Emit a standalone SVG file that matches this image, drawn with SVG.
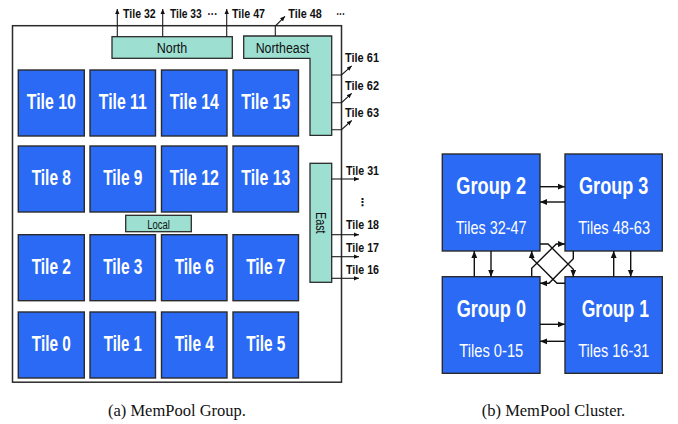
<svg xmlns="http://www.w3.org/2000/svg" width="678" height="424" viewBox="0 0 678 424">
<defs>
<marker id="ah" viewBox="0 0 6 6" refX="6" refY="3" markerWidth="5" markerHeight="5" markerUnits="userSpaceOnUse" orient="auto"><path d="M0,0.4 L6,3 L0,5.6 z" fill="#111"/></marker>
<marker id="ahc" viewBox="0 0 6 6" refX="6" refY="3" markerWidth="7" markerHeight="7" markerUnits="userSpaceOnUse" orient="auto"><path d="M0,0.5 L6,3 L0,5.5 z" fill="#111"/></marker>
</defs>
<style>
.tile{fill:#2a6af5;stroke:#2b2b2b;stroke-width:1.4}
.teal{fill:#9de0d1;stroke:#2b2b2b;stroke-width:1.3}
.tt{font-family:"Liberation Sans",Arial,sans-serif;font-weight:bold;font-size:22px;fill:#fff;text-anchor:middle}
.gt{font-family:"Liberation Sans",Arial,sans-serif;font-weight:bold;font-size:23px;fill:#fff;text-anchor:middle}
.gs{font-family:"Liberation Sans",Arial,sans-serif;font-size:19px;fill:#fff;text-anchor:middle}
.lb{font-family:"Liberation Sans",Arial,sans-serif;font-weight:bold;font-size:12px;fill:#111}
.bl{font-family:"Liberation Sans",Arial,sans-serif;font-size:14px;fill:#111;text-anchor:middle}
.cap{font-family:"Liberation Serif","Times New Roman",serif;font-size:16.5px;fill:#111;text-anchor:middle}
.ln{fill:none;stroke:#1a1a1a;stroke-width:1.1}
.lc{fill:none;stroke:#111;stroke-width:1.4}
</style>
<rect width="678" height="424" fill="#fff"/>

<g id="frame"><rect x="12.5" y="25.7" width="329" height="356.5" fill="none" stroke="#2b2b2b" stroke-width="1.5"/></g>

<g id="north"><rect class="teal" x="112" y="36.7" width="120.3" height="21.6"/><text class="bl" x="172" y="53.3" textLength="30.6" lengthAdjust="spacingAndGlyphs">North</text></g>
<g id="northeast"><path class="teal" d="M243.7,36 H331.7 V135.3 H310 V58.3 H243.7 Z"/><text class="bl" x="282.5" y="53.3" textLength="53.6" lengthAdjust="spacingAndGlyphs">Northeast</text></g>
<g id="east"><rect class="teal" x="310" y="163.3" width="21.7" height="119"/><text class="bl" transform="translate(316.3,222.8) rotate(90)" x="0" y="0" textLength="21.6" lengthAdjust="spacingAndGlyphs">East</text></g>
<g id="local"><rect class="teal" x="125.7" y="215.3" width="65.6" height="16.4"/><text class="bl" style="font-size:12.5px" x="158.5" y="228.7" textLength="22.7" lengthAdjust="spacingAndGlyphs">Local</text></g>

<g id="tile10"><rect class="tile" x="18.3" y="70" width="66" height="66"/><text class="tt" x="51.3" y="109.3" textLength="49" lengthAdjust="spacingAndGlyphs">Tile 10</text></g>
<g id="tile11"><rect class="tile" x="90" y="70" width="65.5" height="66"/><text class="tt" x="122.8" y="109.3" textLength="48" lengthAdjust="spacingAndGlyphs">Tile 11</text></g>
<g id="tile14"><rect class="tile" x="161.5" y="70" width="65.5" height="66"/><text class="tt" x="194.3" y="109.3" textLength="49" lengthAdjust="spacingAndGlyphs">Tile 14</text></g>
<g id="tile15"><rect class="tile" x="233" y="70" width="65.5" height="66"/><text class="tt" x="265.8" y="109.3" textLength="49" lengthAdjust="spacingAndGlyphs">Tile 15</text></g>

<g id="tile8"><rect class="tile" x="18.3" y="146" width="66" height="66"/><text class="tt" x="51.3" y="185.3" textLength="39.3" lengthAdjust="spacingAndGlyphs">Tile 8</text></g>
<g id="tile9"><rect class="tile" x="90" y="146" width="65.5" height="66"/><text class="tt" x="122.8" y="185.3" textLength="39.3" lengthAdjust="spacingAndGlyphs">Tile 9</text></g>
<g id="tile12"><rect class="tile" x="161.5" y="146" width="65.5" height="66"/><text class="tt" x="194.3" y="185.3" textLength="49" lengthAdjust="spacingAndGlyphs">Tile 12</text></g>
<g id="tile13"><rect class="tile" x="233" y="146" width="65.5" height="66"/><text class="tt" x="265.8" y="185.3" textLength="49" lengthAdjust="spacingAndGlyphs">Tile 13</text></g>

<g id="tile2"><rect class="tile" x="18.3" y="234.7" width="66" height="66"/><text class="tt" x="51.3" y="274" textLength="39.3" lengthAdjust="spacingAndGlyphs">Tile 2</text></g>
<g id="tile3"><rect class="tile" x="90" y="234.7" width="65.5" height="66"/><text class="tt" x="122.8" y="274" textLength="39.3" lengthAdjust="spacingAndGlyphs">Tile 3</text></g>
<g id="tile6"><rect class="tile" x="161.5" y="234.7" width="65.5" height="66"/><text class="tt" x="194.3" y="274" textLength="39.3" lengthAdjust="spacingAndGlyphs">Tile 6</text></g>
<g id="tile7"><rect class="tile" x="233" y="234.7" width="65.5" height="66"/><text class="tt" x="265.8" y="274" textLength="39.3" lengthAdjust="spacingAndGlyphs">Tile 7</text></g>

<g id="tile0"><rect class="tile" x="18.3" y="312" width="66" height="66"/><text class="tt" x="51.3" y="351.3" textLength="39" lengthAdjust="spacingAndGlyphs">Tile 0</text></g>
<g id="tile1"><rect class="tile" x="90" y="312" width="65.5" height="66"/><text class="tt" x="122.8" y="351.3" textLength="38" lengthAdjust="spacingAndGlyphs">Tile 1</text></g>
<g id="tile4"><rect class="tile" x="161.5" y="312" width="65.5" height="66"/><text class="tt" x="194.3" y="351.3" textLength="39.3" lengthAdjust="spacingAndGlyphs">Tile 4</text></g>
<g id="tile5"><rect class="tile" x="233" y="312" width="65.5" height="66"/><text class="tt" x="265.8" y="351.3" textLength="39" lengthAdjust="spacingAndGlyphs">Tile 5</text></g>

<g id="labels">
<text class="lb" x="123" y="18.3" textLength="32.7" lengthAdjust="spacingAndGlyphs">Tile 32</text>
<text class="lb" x="170" y="18.3" textLength="31.7" lengthAdjust="spacingAndGlyphs">Tile 33</text>
<text class="lb" x="207.5" y="18.3" textLength="10" lengthAdjust="spacingAndGlyphs">···</text>
<text class="lb" x="232" y="18.3" textLength="33" lengthAdjust="spacingAndGlyphs">Tile 47</text>
<text class="lb" x="288.3" y="18.3" textLength="33.4" lengthAdjust="spacingAndGlyphs">Tile 48</text>
<text class="lb" x="336.5" y="18.3" textLength="8.5" lengthAdjust="spacingAndGlyphs">···</text>
<text class="lb" x="345" y="62.3" textLength="34" lengthAdjust="spacingAndGlyphs">Tile 61</text>
<text class="lb" x="345" y="90" textLength="34" lengthAdjust="spacingAndGlyphs">Tile 62</text>
<text class="lb" x="345" y="117.3" textLength="34" lengthAdjust="spacingAndGlyphs">Tile 63</text>
<text class="lb" x="346" y="175" textLength="33" lengthAdjust="spacingAndGlyphs">Tile 31</text>
<text class="lb" style="font-family:'DejaVu Sans',sans-serif;font-size:11px" x="362.3" y="206" text-anchor="middle">⋮</text>
<text class="lb" x="346" y="229.3" textLength="33" lengthAdjust="spacingAndGlyphs">Tile 18</text>
<text class="lb" x="346" y="252" textLength="33" lengthAdjust="spacingAndGlyphs">Tile 17</text>
<text class="lb" x="346" y="274" textLength="33" lengthAdjust="spacingAndGlyphs">Tile 16</text>
</g>

<g id="group2"><rect class="tile" x="442.3" y="154" width="97.7" height="97"/><text class="gt" x="491.2" y="194" textLength="69.7" lengthAdjust="spacingAndGlyphs">Group 2</text><text class="gs" x="491.2" y="234" textLength="70.7" lengthAdjust="spacingAndGlyphs">Tiles 32-47</text></g>
<g id="group3"><rect class="tile" x="565" y="154" width="97.3" height="97"/><text class="gt" x="613.7" y="194" textLength="69.3" lengthAdjust="spacingAndGlyphs">Group 3</text><text class="gs" x="614.2" y="234" textLength="71.7" lengthAdjust="spacingAndGlyphs">Tiles 48-63</text></g>
<g id="group0"><rect class="tile" x="442.3" y="276.7" width="97.7" height="96.6"/><text class="gt" x="491.3" y="316.7" textLength="69.3" lengthAdjust="spacingAndGlyphs">Group 0</text><text class="gs" x="491.3" y="356.7" textLength="64" lengthAdjust="spacingAndGlyphs">Tiles 0-15</text></g>
<g id="group1"><rect class="tile" x="565" y="276.7" width="97.3" height="96.6"/><text class="gt" x="615.3" y="316.7" textLength="67.3" lengthAdjust="spacingAndGlyphs">Group 1</text><text class="gs" x="613.8" y="356.7" textLength="71" lengthAdjust="spacingAndGlyphs">Tiles 16-31</text></g>

<g id="connectors">
<path class="ln" marker-end="url(#ah)" d="M117.3,36.7 V9"/>
<path class="ln" marker-end="url(#ah)" d="M162.7,36.7 V9"/>
<path class="ln" marker-end="url(#ah)" d="M226.7,36.7 V9"/>
<path class="ln" marker-end="url(#ah)" d="M275.3,36 V26 L285,16.3"/>
<path class="ln" marker-end="url(#ah)" d="M331.7,75 H341.5 L351.7,65.8"/>
<path class="ln" marker-end="url(#ah)" d="M331.7,102.7 H341.5 L351.7,93.3"/>
<path class="ln" marker-end="url(#ah)" d="M331.7,129.7 H341.5 L351.7,120.5"/>
<path class="ln" marker-end="url(#ah)" d="M331.7,179 H359"/>
<path class="ln" marker-end="url(#ah)" d="M331.7,234.7 H359"/>
<path class="ln" marker-end="url(#ah)" d="M331.7,256.7 H359"/>
<path class="ln" marker-end="url(#ah)" d="M331.7,278.3 H359"/>

<path class="lc" marker-end="url(#ahc)" d="M540,186.7 H565"/>
<path class="lc" marker-end="url(#ahc)" d="M565,202 H540"/>
<path class="lc" marker-end="url(#ahc)" d="M540,324.3 H565"/>
<path class="lc" marker-end="url(#ahc)" d="M565,341.3 H540"/>
<path class="lc" marker-end="url(#ahc)" d="M474.3,276.7 V251"/>
<path class="lc" marker-end="url(#ahc)" d="M491,251 V276.7"/>
<path class="lc" marker-end="url(#ahc)" d="M613.7,276.7 V251"/>
<path class="lc" marker-end="url(#ahc)" d="M630.7,251 V276.7"/>
<path class="lc" marker-end="url(#ahc)" d="M540,244 H548 L573.3,269.3 V276.7"/>
<path class="lc" marker-end="url(#ahc)" d="M531.7,276.7 V268.3 L556.3,244 H565"/>
<path class="lc" marker-end="url(#ahc)" d="M573.3,251 V258.7 L549,283.3 H540"/>
<path class="lc" marker-end="url(#ahc)" d="M565,283.3 H557 L531.7,258 V251"/>
</g>

<text class="cap" x="177" y="416">(a) MemPool Group.</text>
<text class="cap" x="553.5" y="416">(b) MemPool Cluster.</text>
</svg>
